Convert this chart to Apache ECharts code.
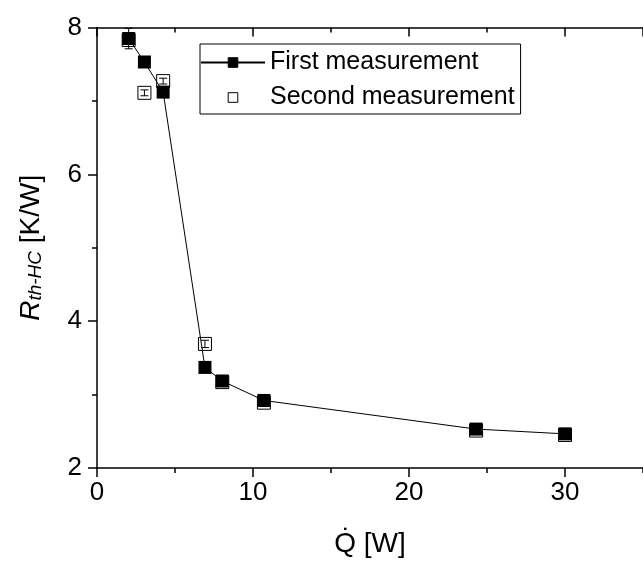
<!DOCTYPE html>
<html><head><meta charset="utf-8">
<script src="https://cdn.jsdelivr.net/npm/echarts@6/dist/echarts.min.js"></script>
<style>html,body{margin:0;padding:0;background:#fff}#c{width:643px;height:563px}</style>
</head><body><div id="c"></div>
<script>
// Heat input Q [W]
const heatInput = [2.03, 3.04, 4.24, 6.92, 8.03, 10.7, 24.3, 30.0];
// First measurement R_th-HC [K/W]
const firstR = [7.85, 7.53, 7.12, 3.37, 3.185, 2.92, 2.53, 2.465];
const firstErr = [0.14, 0.05, 0.04, 0.04, 0.03, 0.04, 0.04, 0.03];
// Second measurement R_th-HC [K/W]
const secondR = [7.83, 7.11, 7.27, 3.69, 3.17, 2.89, 2.51, 2.45];
const secondErr = [0.05, 0.04, 0.04, 0.05, 0.04, 0.05, 0.04, 0.03];

const FONT = 'Liberation Sans, Arial, sans-serif';
const chart = echarts.init(document.getElementById('c'), null, {renderer: 'canvas'});

function errRender(params, api) {
  const x = api.value(0), y = api.value(1), e = api.value(2);
  const t = api.coord([x, y + e]), b = api.coord([x, y - e]);
  const hw = 4;
  const st = {stroke: '#000', lineWidth: 1};
  return {type: 'group', children: [
    {type: 'line', shape: {x1: t[0], y1: t[1], x2: b[0], y2: b[1]}, style: st},
    {type: 'line', shape: {x1: t[0] - hw, y1: t[1], x2: t[0] + hw, y2: t[1]}, style: st},
    {type: 'line', shape: {x1: b[0] - hw, y1: b[1], x2: b[0] + hw, y2: b[1]}, style: st}
  ]};
}

const tickStyle = {color: '#000', width: 1.5};
function noLabel() { return {show: false}; }

chart.setOption({
  animation: false,
  backgroundColor: '#fff',
  grid: {left: 97, top: 27.5, width: 556, height: 446.5, containLabel: false},
  legend: {
    orient: 'vertical', left: 200, top: 44,
    data: [{name: 'First measurement'}, {name: 'Second measurement'}],
    itemWidth: 64, itemHeight: 12, itemGap: 10,
    padding: [6, 6, 4, 0],
    borderColor: '#000', borderWidth: 1,
    itemStyle: {borderWidth: 1},
    textStyle: {fontSize: 25, color: '#000', fontFamily: FONT},
    selectedMode: false
  },
  xAxis: [
    {type: 'value', position: 'bottom', min: 0, max: 35, interval: 10,
     axisLine: {show: true, onZero: false, lineStyle: tickStyle},
     axisTick: {show: true, inside: false, length: 9, lineStyle: tickStyle},
     axisLabel: {fontSize: 26, color: '#000', fontFamily: FONT, margin: 12, showMaxLabel: false},
     splitLine: {show: false},
     name: 'Q\u0307 [W]', nameLocation: 'middle', nameGap: 62,
     nameTextStyle: {fontSize: 28, color: '#000', fontFamily: FONT}},
    {type: 'value', position: 'bottom', min: 0, max: 35, interval: 5,
     axisLine: {show: false, onZero: false},
     axisTick: {show: true, inside: false, length: 5, lineStyle: tickStyle},
     axisLabel: noLabel(), splitLine: {show: false}},
    {type: 'value', position: 'top', min: 0, max: 35, interval: 10,
     axisLine: {show: true, onZero: false, lineStyle: tickStyle},
     axisTick: {show: true, inside: true, length: 9, lineStyle: tickStyle},
     axisLabel: noLabel(), splitLine: {show: false}},
    {type: 'value', position: 'top', min: 0, max: 35, interval: 5,
     axisLine: {show: false, onZero: false},
     axisTick: {show: true, inside: true, length: 5, lineStyle: tickStyle},
     axisLabel: noLabel(), splitLine: {show: false}}
  ],
  yAxis: [
    {type: 'value', position: 'left', min: 2, max: 8, interval: 2,
     axisLine: {show: true, onZero: false, lineStyle: tickStyle},
     axisTick: {show: true, inside: false, length: 9, lineStyle: tickStyle},
     axisLabel: {fontSize: 26, color: '#000', fontFamily: FONT, margin: 15},
     splitLine: {show: false},
     name: '{r|R}{s|th-HC}{n| [K/W]}', nameLocation: 'middle', nameGap: 52,
     nameTextStyle: {color: '#000', fontFamily: FONT, rich: {
       r: {fontSize: 28, fontStyle: 'italic', fontFamily: FONT, color: '#000', lineHeight: 28},
       s: {fontSize: 19, fontStyle: 'italic', fontFamily: FONT, color: '#000', lineHeight: 8, verticalAlign: 'bottom'},
       n: {fontSize: 28, fontFamily: FONT, color: '#000', lineHeight: 28}
     }}},
    {type: 'value', position: 'left', min: 2, max: 8, interval: 1,
     axisLine: {show: false, onZero: false},
     axisTick: {show: true, inside: false, length: 5, lineStyle: tickStyle},
     axisLabel: noLabel(), splitLine: {show: false}}
  ],
  series: [
    {name: 'Second measurement', type: 'line', z: 2,
     data: heatInput.map((x, i) => [x, secondR[i]]),
     symbol: 'rect', symbolSize: 13, showSymbol: true, showAllSymbol: true,
     lineStyle: {opacity: 0, width: 0},
     itemStyle: {color: '#fff', borderColor: '#000', borderWidth: 1}},
    {type: 'custom', z: 3, renderItem: errRender, silent: true,
     encode: {x: 0, y: 1},
     data: heatInput.map((x, i) => [x, secondR[i], secondErr[i]])},
    {name: 'First measurement', type: 'line', z: 4,
     data: heatInput.map((x, i) => [x, firstR[i]]),
     symbol: 'rect', symbolSize: 13, showSymbol: true, showAllSymbol: true,
     lineStyle: {color: '#000', width: 1},
     itemStyle: {color: '#000', borderColor: '#000', borderWidth: 0}},
    {type: 'custom', z: 5, renderItem: errRender, silent: true,
     encode: {x: 0, y: 1},
     data: heatInput.map((x, i) => [x, firstR[i], firstErr[i]])}
  ]
});
</script></body></html>
